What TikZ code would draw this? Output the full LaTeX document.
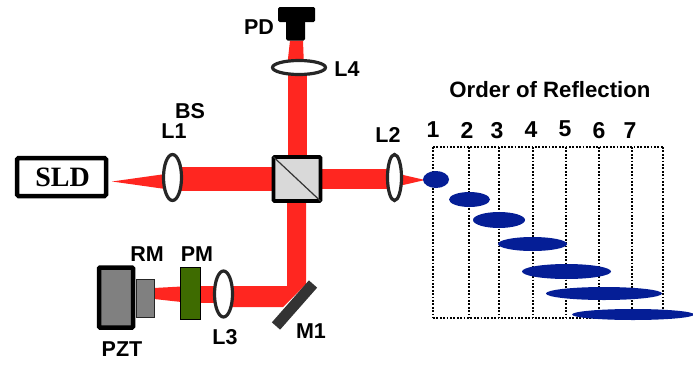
\documentclass[tikz,border=0pt]{standalone}
\usepackage{fontspec}
\setmainfont{Liberation Sans}
\newfontfamily\serifbold{Liberation Serif}
\usetikzlibrary{backgrounds}
\usetikzlibrary{shapes.geometric}
\definecolor{beamred}{RGB}{255,38,32}
\definecolor{spotblue}{RGB}{5,30,150}
\definecolor{plategreen}{RGB}{62,107,0}
\definecolor{pztgray}{RGB}{128,128,128}
\definecolor{cubegray}{RGB}{217,217,217}
\tikzset{
  lbl/.style={font=\fontsize{21.5}{23}\selectfont\bfseries,text=black,anchor=center,inner sep=0pt},
  digit/.style={font=\fontsize{23}{25}\selectfont\bfseries,text=black,anchor=center,inner sep=0pt},
  lens/.style={ellipse,draw=black!85,fill=white,line width=3.2pt,inner sep=0pt,outer sep=0pt},
  beam/.style={draw=beamred,line cap=butt},
  grid line/.style={black,line width=1.8pt,dash pattern=on 1.7pt off 1.7pt},
  spot/.style={ellipse,fill=spotblue,inner sep=0pt,outer sep=0pt},
  block/.style={rectangle,inner sep=0pt,outer sep=0pt}
}
\begin{document}
\begin{tikzpicture}[x=1pt,y=-1pt]
\useasboundingbox (0,0) rectangle (693,364);
\node[block,draw=black,fill=white,line width=4.5pt,rounded corners=1.5pt,minimum width=89pt,minimum height=38pt] (SLD) at (61.5,177) {};
\node[font=\serifbold\fontsize{28}{30}\selectfont\bfseries,text=black,anchor=center,inner sep=0pt] (SLDtext) at (62.5,177) {SLD};
\coordinate (source) at (112,181.5);
\node[lens,minimum width=18pt,minimum height=46pt] (L1) at (172.5,177.5) {};
\node[block,draw=black,fill=cubegray,line width=3.6pt,rounded corners=1pt,minimum width=47pt,minimum height=44pt] (BS) at (297,179) {};
\draw[black!80,line width=1.2pt] (BS.north west) -- (BS.south east);
\node[lens,minimum width=14pt,minimum height=46pt] (L2) at (394.5,177.5) {};
\coordinate (focus) at (425,180);
\node[lens,minimum width=53pt,minimum height=14pt] (L4) at (299,67.5) {};
\node[block,fill=black,rounded corners=1.5pt,minimum width=19pt,minimum height=20pt] (PD) at (295.5,30.5) {};
\node[block,fill=black,rounded corners=1.5pt,minimum width=37pt,minimum height=15pt] (PDtop) at (296.5,14.5) {};
\node[lens,minimum width=18pt,minimum height=46pt] (L3) at (223.5,294) {};
\node[block,draw=black,fill=plategreen,line width=1.6pt,minimum width=20pt,minimum height=52pt] (PM) at (190.5,293.5) {};
\node[block,draw=black!85,fill=pztgray,line width=1pt,minimum width=18pt,minimum height=38pt] (RM) at (145,298) {};
\node[block,draw=black,fill=pztgray,line width=4.5pt,rounded corners=1pt,minimum width=34pt,minimum height=60pt] (PZT) at (116,297.5) {};
\node[block,fill=black!80,minimum width=56pt,minimum height=11pt,rotate=48.6] (M1) at (294.5,305) {};

\begin{scope}[on background layer]
\fill[beamred] (source) -- ([yshift=4.5pt]L1.center) -- ([yshift=-12.5pt]L1.center) -- cycle;
\draw[beam,line width=24pt] (L1.center |- BS.center) -- (BS.center);
\draw[beam,line width=20pt] (BS.center) -- (BS.center -| L2.center);
\fill[beamred] ([yshift=4.5pt]L2.center) -- (focus) -- ([yshift=-9.5pt]L2.center) -- cycle;
\draw[beam,line width=19pt] (BS.center) -- (BS.center |- L4.center);
\fill[beamred] ([xshift=-12pt]L4.center) -- ([xshift=-5.5pt]PD.south) -- ([xshift=7.5pt]PD.south) -- ([xshift=5pt]L4.center) -- cycle;
\fill[beamred] ([xshift=-10pt]BS.south) -- ([xshift=9pt]BS.south) -- ([xshift=11.5pt,yshift=21pt]M1.center) -- ([xshift=-11.5pt,yshift=-2pt]M1.center) -- ([yshift=-13pt]L3.center) -- ([yshift=8pt]L3.center) -- ([xshift=-7.5pt,yshift=19pt]M1.center) -- cycle;
\draw[beam,line width=17pt] (L3.center) -- (L3.center -| PM.center);
\fill[beamred] ([yshift=7.5pt]PM.center) -- ([yshift=-9.5pt]PM.center) -- ([yshift=-1pt]RM.east) -- ([yshift=10pt]RM.east) -- cycle;
\end{scope}

\draw[grid line] (433,147) -- (663,147);
\draw[grid line] (433,318) -- (663,318);
\draw[grid line] (433,147) -- (433,318);
\draw[grid line] (469,147) -- (469,318);
\draw[grid line] (499,147) -- (499,318);
\draw[grid line] (533,147) -- (533,318);
\draw[grid line] (566,147) -- (566,318);
\draw[grid line] (599,147) -- (599,318);
\draw[grid line] (632,147) -- (632,318);
\draw[grid line] (663,147) -- (663,318);

\node[spot,minimum width=26pt,minimum height=17pt] (spot1) at (436,179.5) {};
\node[spot,minimum width=41pt,minimum height=15pt] (spot2) at (469.5,199.5) {};
\node[spot,minimum width=52pt,minimum height=16pt] (spot3) at (499,220) {};
\node[spot,minimum width=69pt,minimum height=14pt] (spot4) at (532.5,244) {};
\node[spot,minimum width=89pt,minimum height=15pt] (spot5) at (566.5,271.5) {};
\node[spot,minimum width=116pt,minimum height=13pt] (spot6) at (604,293.5) {};
\node[spot,minimum width=122pt,minimum height=11pt] (spot7) at (633,314.5) {};

\node[lbl] (BSlabel) at (190,111) {BS};
\node[lbl] (L1label) at (174,131) {L1};
\node[lbl] (RMlabel) at (147,254) {RM};
\node[lbl] (PMlabel) at (197,254) {PM};
\node[lbl] (L3label) at (225,337) {L3};
\node[lbl] (M1label) at (311,331) {M1};
\node[lbl] (PZTlabel) at (122,349) {PZT};
\node[lbl] (PDlabel) at (259,27) {PD};
\node[lbl] (L4label) at (347,69) {L4};
\node[lbl] (L2label) at (388,135) {L2};
\node[lbl,font=\fontsize{22.2}{24}\selectfont\bfseries] (title) at (550,90) {Order of Reflection};
\node[digit] (n1) at (433,130) {1};
\node[digit] (n2) at (467,130) {2};
\node[digit] (n3) at (497,131) {3};
\node[digit] (n4) at (531,130) {4};
\node[digit] (n5) at (565,129) {5};
\node[digit] (n6) at (599,131) {6};
\node[digit] (n7) at (630,131) {7};
\end{tikzpicture}
\end{document}
